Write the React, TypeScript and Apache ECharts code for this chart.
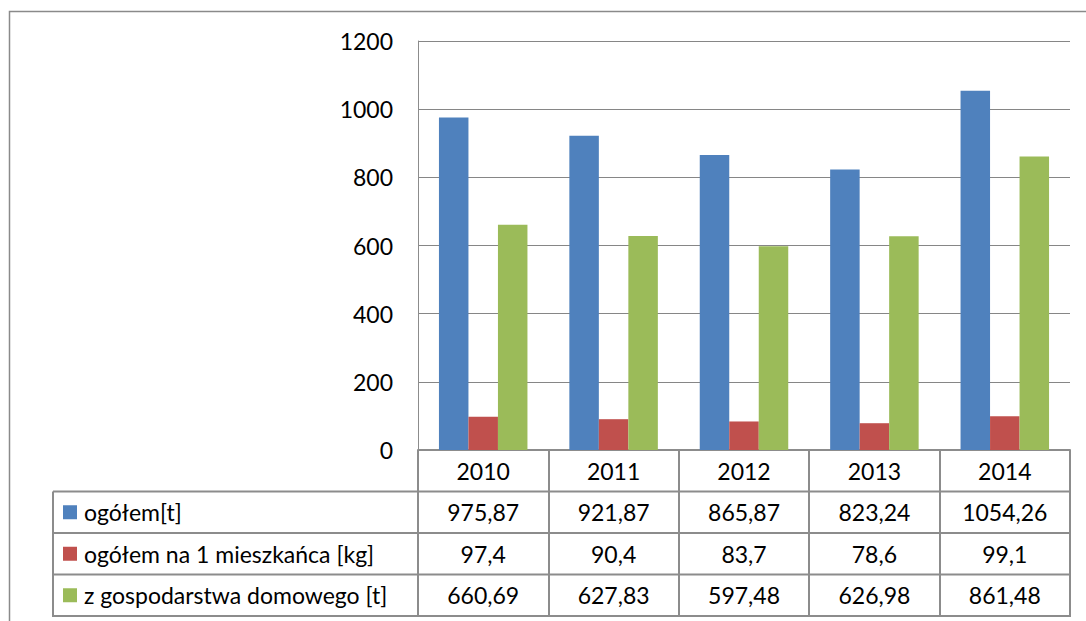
import React, { useEffect, useRef } from "react";
import * as echarts from "echarts";

const years = ["2010", "2011", "2012", "2013", "2014"];
const seriesNames = ["ogółem[t]", "ogółem na 1 mieszkańca [kg]", "z gospodarstwa domowego [t]"];
const totalT = [975.87, 921.87, 865.87, 823.24, 1054.26];
const perResidentKg = [97.4, 90.4, 83.7, 78.6, 99.1];
const householdT = [660.69, 627.83, 597.48, 626.98, 861.48];
const yTicks = [0, 200, 400, 600, 800, 1000, 1200];

const colors = ["#4f81bd", "#c0504d", "#9bbb59"];
const FONT = "Lato";
const FS = 23;
const GRID_L = 418;
const GRID_R = 1070;
const GRID_T = 41;
const GRID_B = 450;
const ROW_H = 41.5;
const TABLE_L = 53;
const LINE = "#8c8c8c";

const fmt = (v: number) => String(v).replace(".", ",");

export default function App() {
  const ref = useRef<HTMLDivElement>(null);
  useEffect(() => {
    if (!ref.current) return;
    const chart = echarts.init(ref.current, undefined, { renderer: "svg" });
    const rows = [totalT, perResidentKg, householdT];
    const labelStyle = {
      fontFamily: FONT,
      fontSize: FS,
      color: "#000",
      verticalAlign: "middle" as const,
      margin: ROW_H / 2,
    };
    const xAxes: any[] = [
      {
        type: "category",
        data: years,
        gridIndex: 0,
        position: "bottom",
        axisLine: { show: true, lineStyle: { color: LINE, width: 2 } },
        axisTick: {
          show: true,
          length: ROW_H * 4,
          inside: false,
          lineStyle: { color: LINE, width: 2 },
        },
        axisLabel: { ...labelStyle },
      },
    ];
    rows.forEach((r, i) => {
      xAxes.push({
        type: "category",
        data: r.map(fmt),
        gridIndex: 0,
        position: "bottom",
        offset: ROW_H * (i + 1),
        axisLine: { show: false },
        axisTick: { show: false },
        axisLabel: { ...labelStyle },
      });
    });
    const tableLines: any[] = [];
    for (let i = 1; i <= 4; i++) {
      const y = GRID_B + ROW_H * i;
      tableLines.push({
        type: "line",
        shape: { x1: TABLE_L, y1: y, x2: GRID_R + 1, y2: y },
        style: { stroke: LINE, lineWidth: 2 },
      });
    }
    tableLines.push({
      type: "line",
      shape: { x1: TABLE_L, y1: GRID_B + ROW_H, x2: TABLE_L, y2: GRID_B + ROW_H * 4 + 1 },
      style: { stroke: LINE, lineWidth: 2 },
    });
    chart.setOption({
      animation: false,
      color: colors,
      grid: {
        left: GRID_L,
        right: 1086 - GRID_R,
        top: GRID_T,
        bottom: 621 - GRID_B,
        containLabel: false,
      },
      legend: {
        orient: "vertical",
        left: 63,
        top: GRID_B + ROW_H + ROW_H / 2 - 14,
        itemWidth: 14,
        itemHeight: 14,
        itemGap: ROW_H - 28,
        icon: "rect",
        selectedMode: false,
        data: seriesNames,
        textStyle: {
          fontFamily: FONT,
          fontSize: FS,
          color: "#000",
          lineHeight: 28,
          padding: [0, 0, 0, 2],
        },
        padding: 0,
      },
      xAxis: xAxes,
      yAxis: {
        type: "value",
        min: yTicks[0],
        max: yTicks[yTicks.length - 1],
        interval: 200,
        axisLine: { show: true, lineStyle: { color: LINE, width: 1 } },
        axisTick: { show: false },
        splitLine: { show: true, lineStyle: { color: "#868686", width: 1 } },
        axisLabel: {
          fontFamily: FONT,
          fontSize: FS,
          color: "#000",
          margin: 25,
          formatter: (v: number) => String(v),
        },
      },
      series: [totalT, perResidentKg, householdT].map((d, i) => ({
        type: "bar",
        name: seriesNames[i],
        data: d,
        xAxisIndex: 0,
        barWidth: 29.5,
        barGap: "0%",
        itemStyle: { color: colors[i] },
      })),
      graphic: [
        {
          type: "rect",
          shape: { x: 9.5, y: 11.5, width: 1200, height: 800 },
          style: { fill: "none", stroke: "#8a8a8a", lineWidth: 1.5 },
          silent: true,
        },
        ...tableLines,
      ],
    });
    return () => chart.dispose();
  }, []);
  return (
    <div
      ref={ref}
      style={{ position: "fixed", left: 0, top: 0, width: 1086, height: 621, background: "#fff" }}
    />
  );
}
